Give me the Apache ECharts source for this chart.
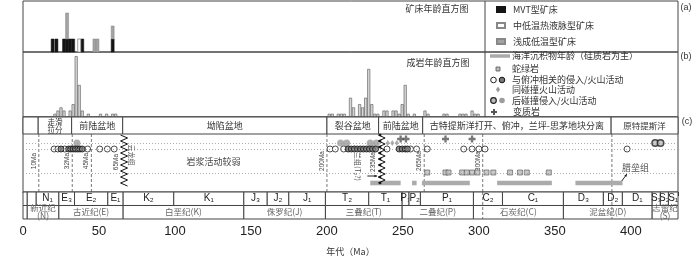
<!DOCTYPE html>
<html>
<head>
<meta charset="utf-8">
<title>age chart</title>
<script src="https://cdn.jsdelivr.net/npm/echarts@6/dist/echarts.min.js"></script>
<style>
  html, body { margin: 0; padding: 0; background: #fff; }
  #chart { width: 700px; height: 257px; }
</style>
</head>
<body>
<div id="chart"></div>
<script>
// ---- (a) deposit ages, 2 Ma bins ----
const depositBins = [19.5, 22, 27, 29, 31, 33, 37, 39, 47, 49, 59];
const mvtCounts = [1, 1, 1, 1, 1, 1, 0, 1, 0, 0, 1];
const veinCounts = [0, 0, 0, 0, 0, 0, 1, 0, 0, 0, 0];
const epithermalCounts = [0, 0, 0, 2, 0, 0, 0, 0, 1, 1, 1];

// ---- (b) rock ages, 2 Ma bins ----
const rockBins = [21, 23, 25, 27, 31, 33, 35, 37, 39, 43, 51, 55, 59, 61,
  201.5, 203.5, 207.5, 209.5, 211.5, 215.5, 217.5, 221.5, 223.5, 225.5, 227.5, 229.5, 231.5, 233.5,
  237.5, 239.5, 243.5, 245.5, 247.5, 249.5, 251.5, 253.5, 257.5, 264.5, 266.5, 277, 279,
  287.5, 289.5, 291.5, 295.5, 297.5, 299.5];
const rockCounts = [1, 2, 3, 2, 2, 4, 19, 10, 2, 1, 1, 1, 1, 1,
  1, 1, 1, 1, 1, 6, 3, 4, 3, 6, 15, 4, 1, 1,
  2, 2, 2, 2, 1, 4, 10, 1, 1, 2, 1, 1, 1,
  1, 1, 1, 2, 1, 1];

// ---- (c) events ----
const headerStart = [0, 10, 32, 65.6, 200, 234, 263, 387];
const headerEnd = [10, 32, 65.6, 200, 234, 263, 387, 431];
const headerLabels = ['', '走滑\n拉分', '前陆盆地', '坳陷盆地', '裂谷盆地', '前陆盆地',
  '古特提斯洋打开、俯冲，兰坪-思茅地块分离', '原特提斯洋'];

const postAges = [35.5, 209, 213, 228.5, 232.5];
const postRimAges = [416, 419.5];
const synCollisionAges = [240, 243, 246];
const metamorphicAges = [248.5, 252, 278, 295.5];
const subductionAges = [20.5, 23, 27.5, 42.5, 50.5, 55.5, 60, 202, 205.5, 211, 239.5, 255, 259, 266,
  290, 295.5, 300, 304, 397.5];
const subductionDarkAges = [25, 30, 31.5, 33, 34.5, 36, 37.5, 39,
  214, 216, 218, 220, 222, 224, 226, 228, 230, 232, 247.5, 249.5, 251.5, 253];
const ophioliteAges = [266, 278, 280, 289, 292, 295.5, 299, 305, 309.5, 320.5, 327, 331.5, 346];
const marineStart = [228.5, 256, 262.5, 312, 363.5];
const marineEnd = [248.5, 259, 294, 348, 394.5];

const markAges = [10.4, 32.4, 45, 200, 264, 302.5, 387.5];
const markLabels = ['10Ma', '32Ma', '45Ma', '200Ma', '265Ma', '300Ma', ''];
const markFull = [false, false, false, false, false, true, true];
const unconfAges = [66.5, 236];
const unconfLabels = ['65Ma', '235Ma'];

// ---- geologic time scale ----
const epochStart = [0, 2.8, 8.7, 23.6, 33.9, 55.8, 65.9, 99.2, 145.3, 160.7, 174.9, 199, 227.5,
  249.5, 254, 261.5, 296.4, 315.5, 355.6, 381.9, 394.4, 414, 419.4, 424.7];
const epochEnd = [2.8, 8.7, 23.6, 33.9, 55.8, 65.9, 99.2, 145.3, 160.7, 174.9, 199, 227.5, 249.5,
  254, 261.5, 296.4, 315.5, 355.6, 381.9, 394.4, 414, 419.4, 424.7, 431];
const epochLabels = ['', '', 'N₁', 'E₃', 'E₂', 'E₁', 'K₂', 'K₁', 'J₃', 'J₂', 'J₁', 'T₂', 'T₁',
  'P₃', 'P₂', 'P₁', 'C₂', 'C₁', 'D₃', 'D₂', 'D₁', 'S₃', 'S₂', 'S₁'];
const periodStart = [0, 2.8, 23.6, 65.9, 145.3, 199, 249.5, 296.4, 355.6, 414];
const periodEnd = [2.8, 23.6, 65.9, 145.3, 199, 249.5, 296.4, 355.6, 414, 431];
const periodLabels = ['', '新近纪\n(N)', '古近纪(E)', '白垩纪(K)', '侏罗纪(J)', '三叠纪(T)',
  '二叠纪(P)', '石炭纪(C)', '泥盆纪(D)', '志留纪\n(S)'];

const CJK = '"Noto Sans CJK SC", sans-serif';
const LAT = '"Liberation Sans", Arial, sans-serif';
const AGE_MAX = 431;
const ROW = { header: 17, plus: 22, post: 26, sub: 32, ophiolite: 55.5, marine: 66, bottom: 75 };
const PLUS = 'path://M2,0h2v2h2v2h-2v2h-2v-2h-2v-2h2z';

const chart = echarts.init(document.getElementById('chart'));

function ageAxis(gridIndex, extra) {
  return Object.assign({ type: 'value', gridIndex, min: 0, max: AGE_MAX, show: false }, extra || {});
}
function rowAxis(gridIndex, max, inverse) {
  return { type: 'value', gridIndex, min: 0, max, inverse: !!inverse, show: false };
}

function cellSeries(starts, ends, labels, v0, v1, font, color, lineHeight) {
  return {
    type: 'custom', xAxisIndex: 3, yAxisIndex: 3, silent: true, z: 3,
    data: starts.map((s, i) => [s, ends[i]]),
    encode: { x: [0, 1] },
    renderItem(params, api) {
      const a = api.coord([api.value(0), v0]);
      const b = api.coord([api.value(1), v1]);
      return {
        type: 'group', children: [
          { type: 'rect', shape: { x: a[0], y: a[1], width: b[0] - a[0], height: b[1] - a[1] },
            style: { fill: '#fff', stroke: '#444', lineWidth: 1 } },
          { type: 'text', x: (a[0] + b[0]) / 2, y: (a[1] + b[1]) / 2,
            style: { text: labels[params.dataIndex], font, fill: color, align: 'center',
              verticalAlign: 'middle', lineHeight } }
        ]
      };
    }
  };
}

function points(name, ages, v, symbol, size, itemStyle, extra) {
  return Object.assign({
    name, type: 'scatter', xAxisIndex: 2, yAxisIndex: 2, symbol, symbolSize: size, silent: true, z: 4,
    data: ages.map(a => [a, v]), itemStyle
  }, extra || {});
}

// stacked deposit histogram: each type sits on the ones listed before it
const depositTypes = [
  ['MVT型矿床', mvtCounts, { color: '#151515', stroke: '#151515', lineWidth: 0.5 }],
  ['中低温热液脉型矿床', veinCounts, { color: '#fff', stroke: '#888', lineWidth: 0.8 }],
  ['浅成低温型矿床', epithermalCounts, { color: '#a3a3a3', stroke: '#888', lineWidth: 0.5 }]
];
const depositSeries = depositTypes.map(([name, counts, st], t) => ({
  name, type: 'custom', xAxisIndex: 0, yAxisIndex: 0, silent: true, z: 3 + t,
  itemStyle: { color: st.color, borderColor: st.stroke, borderWidth: st.lineWidth },
  data: depositBins.map((b, i) => {
    let base = 0;
    for (let k = 0; k < t; k++) base += depositTypes[k][1][i];
    return [b, base, counts[i]];
  }),
  encode: { x: 0, y: 1 },
  renderItem(params, api) {
    if (!api.value(2)) return null;
    const a = api.coord([api.value(0), api.value(1)]);
    const b = api.coord([api.value(0), api.value(1) + api.value(2)]);
    return { type: 'rect', shape: { x: a[0] - 1.5, y: b[1], width: 3, height: a[1] - b[1] },
      style: { fill: st.color, stroke: st.stroke, lineWidth: st.lineWidth } };
  }
}));

const notes = [
  { age: 125.3, v: 45, text: '岩浆活动较弱', size: 9, rot: 0, color: '#444' },
  { age: 71.7, v: 38, text: '云龙组', size: 7, rot: -Math.PI / 2, color: '#555' },
  { age: 220, v: 46, text: '上兰组(T₂?)', size: 7, rot: -Math.PI / 2, color: '#555' },
  { age: 403, v: 51, text: '腊垒组', size: 9, rot: 0, color: '#555' }
];
const arrows = [[226.6, 59, 233, 59], [394, 64, 397.4, 57]];

chart.setOption({
  animation: false,
  grid: [
    { left: 23, right: 22, top: 1, height: 51, show: true, borderColor: '#444', borderWidth: 1 },
    { left: 23, right: 22, top: 52, height: 65, show: true, borderColor: '#444', borderWidth: 1 },
    { left: 23, right: 22, top: 117, height: 75, show: true, borderColor: '#444', borderWidth: 1 },
    { left: 23, right: 22, top: 192, height: 30 }
  ],
  xAxis: [
    ageAxis(0), ageAxis(1), ageAxis(2),
    ageAxis(3, {
      show: true, interval: 10,
      name: '年代（Ma）', nameLocation: 'middle', nameGap: 28,
      nameTextStyle: { fontFamily: CJK, fontSize: 9, color: '#333' },
      axisLine: { lineStyle: { color: '#333', width: 1 } },
      axisTick: { length: 4, lineStyle: { color: '#333' } },
      splitLine: { show: false },
      axisLabel: { formatter: v => (v % 50 === 0 ? String(v) : ''), fontFamily: LAT, fontSize: 13,
        color: '#222', margin: 6 }
    })
  ],
  yAxis: [rowAxis(0, 3.92), rowAxis(1, 20.3), rowAxis(2, 75, true), rowAxis(3, 30, true)],
  legend: {
    data: ['MVT型矿床', '中低温热液脉型矿床', '浅成低温型矿床'],
    orient: 'vertical', left: 496, top: 5, padding: 0, itemWidth: 8, itemHeight: 5, itemGap: 7,
    icon: 'rect', selectedMode: false,
    textStyle: { fontFamily: CJK, fontSize: 9, color: '#333', padding: [0, 0, 0, 3] }
  },
  graphic: [
    { type: 'line', shape: { x1: 485, y1: 1, x2: 485, y2: 117 }, style: { stroke: '#444', lineWidth: 1 } },
    { type: 'text', x: 437, y: 9, style: { text: '矿床年龄直方图', font: '9px ' + CJK, fill: '#333', align: 'center', verticalAlign: 'middle' } },
    { type: 'text', x: 438, y: 63, style: { text: '成岩年龄直方图', font: '9px ' + CJK, fill: '#333', align: 'center', verticalAlign: 'middle' } },
    { type: 'text', x: 686, y: 8, style: { text: '(a)', font: '9px ' + LAT, fill: '#333', align: 'center', verticalAlign: 'middle' } },
    { type: 'text', x: 686, y: 57, style: { text: '(b)', font: '9px ' + LAT, fill: '#333', align: 'center', verticalAlign: 'middle' } },
    { type: 'text', x: 687, y: 122, style: { text: '(c)', font: '9px ' + LAT, fill: '#333', align: 'center', verticalAlign: 'middle' } },
    // legend for panel (c) symbols
    { type: 'line', shape: { x1: 490, y1: 56, x2: 510, y2: 56 }, style: { stroke: '#aaa', lineWidth: 3.5 } },
    { type: 'text', x: 512, y: 56, style: { text: '海洋沉积物年龄（硅质岩为主）', font: '9px ' + CJK, fill: '#333', verticalAlign: 'middle' } },
    { type: 'rect', shape: { x: 496, y: 67, width: 4, height: 4 }, style: { fill: '#bbb', stroke: '#555', lineWidth: 0.8 } },
    { type: 'text', x: 512, y: 69, style: { text: '蛇绿岩', font: '9px ' + CJK, fill: '#333', verticalAlign: 'middle' } },
    { type: 'circle', shape: { cx: 493.5, cy: 80, r: 2.8 }, style: { fill: '#fff', stroke: '#222', lineWidth: 1 } },
    { type: 'circle', shape: { cx: 502, cy: 80, r: 2.8 }, style: { fill: '#777', stroke: '#111', lineWidth: 1 } },
    { type: 'text', x: 512, y: 80, style: { text: '与俯冲相关的侵入/火山活动', font: '9px ' + CJK, fill: '#333', verticalAlign: 'middle' } },
    { type: 'polygon', shape: { points: [[498, 86.5], [500, 89.5], [498, 92.5], [496, 89.5]] }, style: { fill: '#999' } },
    { type: 'text', x: 512, y: 90, style: { text: '同碰撞火山活动', font: '9px ' + CJK, fill: '#333', verticalAlign: 'middle' } },
    { type: 'circle', shape: { cx: 493.5, cy: 100.5, r: 2.8 }, style: { fill: '#bbb', stroke: '#222', lineWidth: 1.2 } },
    { type: 'circle', shape: { cx: 502, cy: 100.5, r: 2.8 }, style: { fill: '#9c9c9c' } },
    { type: 'text', x: 512, y: 100.5, style: { text: '后碰撞侵入/火山活动', font: '9px ' + CJK, fill: '#333', verticalAlign: 'middle' } },
    { type: 'polygon', shape: { points: [[493, 109], [495, 109], [495, 111], [497, 111], [497, 113], [495, 113], [495, 115], [493, 115], [493, 113], [491, 113], [491, 111], [493, 111]] }, style: { fill: '#555' } },
    { type: 'text', x: 513, y: 112, style: { text: '变质岩', font: '9px ' + CJK, fill: '#333', verticalAlign: 'middle' } }
  ],
  series: [
    ...depositSeries,
    {
      name: '成岩年龄', type: 'bar', xAxisIndex: 1, yAxisIndex: 1, barWidth: 3, silent: true,
      data: rockBins.map((b, i) => [b, rockCounts[i]]),
      itemStyle: { color: '#d6d6d6', borderColor: '#555', borderWidth: 0.6 }
    },
    // header row of panel (c)
    {
      type: 'custom', xAxisIndex: 2, yAxisIndex: 2, silent: true, z: 3,
      data: headerStart.map((s, i) => [s, headerEnd[i]]),
      encode: { x: [0, 1] },
      renderItem(params, api) {
        const a = api.coord([api.value(0), 0]);
        const b = api.coord([api.value(1), ROW.header]);
        const i = params.dataIndex;
        return {
          type: 'group', children: [
            { type: 'rect', shape: { x: a[0], y: a[1], width: b[0] - a[0], height: b[1] - a[1] },
              style: { fill: '#fff', stroke: '#444', lineWidth: 1 } },
            { type: 'text', x: (a[0] + b[0]) / 2, y: (a[1] + b[1]) / 2 + 0.5,
              style: { text: headerLabels[i], font: (i === 1 ? '7.5px ' : i === 7 ? '8.5px ' : '9px ') + CJK,
                fill: '#333', align: 'center', verticalAlign: 'middle', lineHeight: 7.5 } }
          ]
        };
      }
    },
    // dashed age markers
    {
      type: 'custom', xAxisIndex: 2, yAxisIndex: 2, silent: true, z: 2,
      data: markAges.map(a => [a, ROW.header]),
      renderItem(params, api) {
        const top = api.coord([api.value(0), ROW.header]);
        const bot = api.coord([api.value(0), ROW.bottom]);
        const kids = [{ type: 'line', shape: { x1: top[0], y1: top[1], x2: bot[0], y2: bot[1] },
          style: { stroke: '#555', lineWidth: 0.8, lineDash: [3, 2] } }];
        const label = markLabels[params.dataIndex];
        if (label) {
          kids.push({ type: 'text', x: top[0] - 5, y: api.coord([0, 44])[1], rotation: Math.PI / 2,
            style: { text: label, font: '6.5px ' + LAT, fill: '#444', align: 'center', verticalAlign: 'middle' } });
        }
        return { type: 'group', children: kids };
      }
    },
    // unconformities (zigzag)
    {
      type: 'custom', xAxisIndex: 2, yAxisIndex: 2, silent: true, z: 5,
      data: unconfAges.map(a => [a, ROW.header]),
      renderItem(params, api) {
        const i = params.dataIndex;
        const x = api.coord([api.value(0), 0])[0];
        const y0 = api.coord([0, 18])[1];
        const y1 = api.coord([0, i === 0 ? 70 : 67])[1];
        const pts = [];
        const kids = [];
        for (let y = y0, k = 0; y <= y1; y += 3, k++) {
          pts.push([x + (k % 2 ? 3.5 : -3.5), y]);
          if (i === 1 && k % 2 === 0) kids.push({ type: 'circle', shape: { cx: x - 1.5, cy: y, r: 1.3 }, style: { fill: '#111' } });
        }
        kids.unshift({ type: 'polyline', shape: { points: pts }, style: { stroke: '#111', lineWidth: 1, fill: null } });
        kids.push({ type: 'text', x: x - 8, y: api.coord([0, 45])[1], rotation: Math.PI / 2,
          style: { text: unconfLabels[i], font: '6.5px ' + LAT, fill: '#444', align: 'center', verticalAlign: 'middle' } });
        return { type: 'group', children: kids };
      }
    },
    // marine sediment age ranges
    {
      type: 'custom', xAxisIndex: 2, yAxisIndex: 2, silent: true, z: 3,
      data: marineStart.map((s, i) => [s, marineEnd[i]]),
      encode: { x: [0, 1] },
      renderItem(params, api) {
        const a = api.coord([api.value(0), ROW.marine]);
        const b = api.coord([api.value(1), ROW.marine]);
        return { type: 'rect', shape: { x: a[0], y: a[1] - 2.3, width: b[0] - a[0], height: 4.6 }, style: { fill: '#ababab' } };
      }
    },
    // text notes and arrows
    {
      type: 'custom', xAxisIndex: 2, yAxisIndex: 2, silent: true, z: 6,
      data: notes.map(n => [n.age, n.v]),
      renderItem(params, api) {
        const n = notes[params.dataIndex];
        const p = api.coord([api.value(0), api.value(1)]);
        return { type: 'text', x: p[0], y: p[1], rotation: n.rot,
          style: { text: n.text, font: n.size + 'px ' + CJK, fill: n.color, align: 'center', verticalAlign: 'middle' } };
      }
    },
    {
      type: 'custom', xAxisIndex: 2, yAxisIndex: 2, silent: true, z: 6,
      data: arrows,
      encode: { x: [0, 2], y: [1, 3] },
      renderItem(params, api) {
        const a = api.coord([api.value(0), api.value(1)]);
        const b = api.coord([api.value(2), api.value(3)]);
        const ang = Math.atan2(b[1] - a[1], b[0] - a[0]);
        const h = 3;
        const head = [b,
          [b[0] - h * Math.cos(ang - 0.45), b[1] - h * Math.sin(ang - 0.45)],
          [b[0] - h * Math.cos(ang + 0.45), b[1] - h * Math.sin(ang + 0.45)]];
        return { type: 'group', children: [
          { type: 'line', shape: { x1: a[0], y1: a[1], x2: b[0], y2: b[1] }, style: { stroke: '#222', lineWidth: 1 } },
          { type: 'polygon', shape: { points: head }, style: { fill: '#222' } }
        ] };
      }
    },
    points('后碰撞侵入/火山活动', postAges, ROW.post, 'circle', 7, { color: '#9c9c9c' }),
    points('后碰撞侵入', postRimAges, ROW.post, 'circle', 6.5, { color: '#bbb', borderColor: '#222', borderWidth: 1.5 }),
    points('同碰撞火山活动', synCollisionAges, ROW.post, 'diamond', [4, 6], { color: '#999' }),
    points('变质岩', metamorphicAges, ROW.plus, PLUS, 7, { color: '#555' }),
    points('与俯冲相关的侵入/火山活动', subductionAges, ROW.sub, 'circle', 6,
      { color: '#fff', borderColor: '#222', borderWidth: 1 }, {
        markLine: {
          silent: true, symbol: 'none', label: { show: false },
          lineStyle: { type: [1, 2], color: '#999', width: 0.8 },
          data: [{ yAxis: ROW.post }, { yAxis: ROW.sub }, { yAxis: 56 }]
        }
      }),
    points('俯冲侵入', subductionDarkAges, ROW.sub, 'circle', 6, { color: '#777', borderColor: '#111', borderWidth: 1 }),
    points('蛇绿岩', ophioliteAges, ROW.ophiolite, 'rect', 5, { color: '#bbb', borderColor: '#555', borderWidth: 0.8 }),
    // time scale rows
    cellSeries(epochStart, epochEnd, epochLabels, 0, 15, '10px ' + LAT, '#222', 10),
    cellSeries(periodStart, periodEnd, periodLabels, 15, 30, '8.5px ' + CJK, '#666', 8),
    {
      type: 'custom', xAxisIndex: 3, yAxisIndex: 3, silent: true, z: 5,
      data: markAges.filter((a, i) => markFull[i]).map(a => [a, 0]),
      renderItem(params, api) {
        const a = api.coord([api.value(0), 0]);
        const b = api.coord([api.value(0), 30]);
        return { type: 'line', shape: { x1: a[0], y1: a[1], x2: b[0], y2: b[1] },
          style: { stroke: '#555', lineWidth: 0.8, lineDash: [3, 2] } };
      }
    }
  ]
});
</script>
</body>
</html>
